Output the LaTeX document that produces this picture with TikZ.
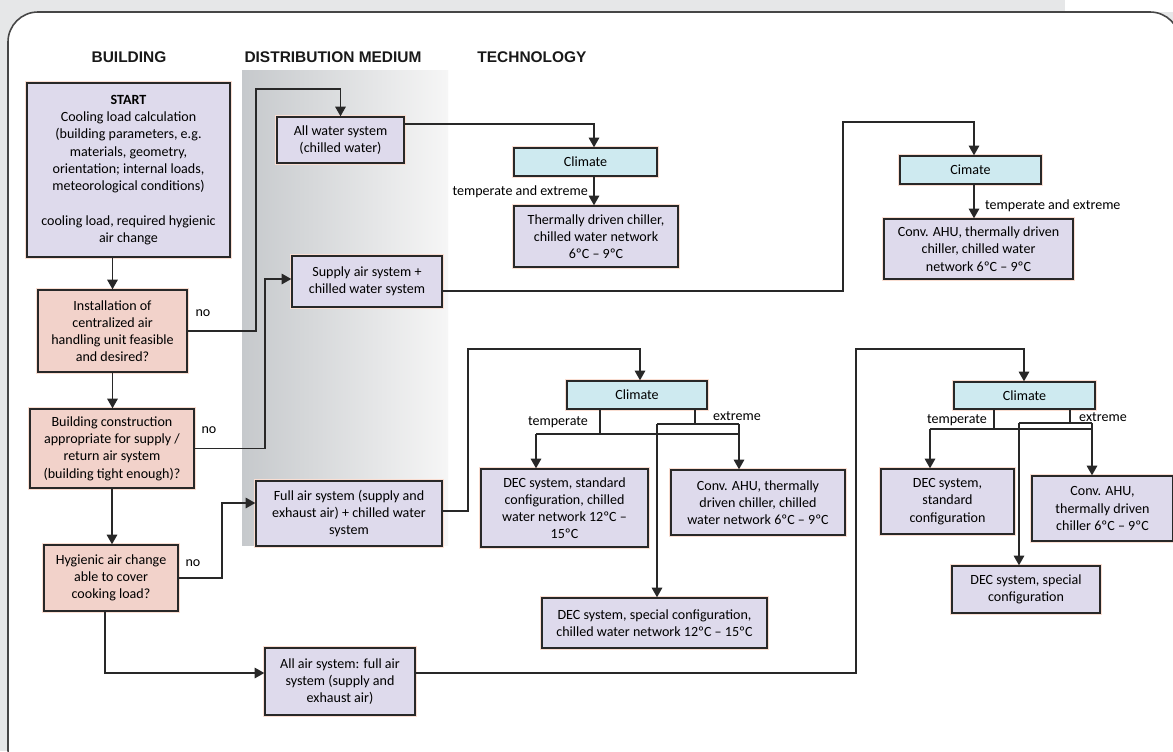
\documentclass[tikz,border=0pt]{standalone}
\usepackage{fontspec}
\setmainfont{Carlito}
\newfontfamily\headfont{Liberation Sans}
\usepackage{tikz}
\usetikzlibrary{arrows.meta, positioning, calc}

\definecolor{panelgrey}{RGB}{230,231,232}
\definecolor{frameink}{RGB}{70,70,70}
\definecolor{lineink}{RGB}{40,40,40}
\definecolor{boxviolet}{RGB}{222,218,236}
\definecolor{boxrose}{RGB}{242,210,202}
\definecolor{boxcyan}{RGB}{206,234,240}
\definecolor{glow}{RGB}{250,222,210}
\definecolor{colleft}{RGB}{198,201,204}
\definecolor{colright}{RGB}{246,246,246}

\begin{document}
\begin{tikzpicture}[x=0.02cm,y=-0.02cm,>={Triangle[length=5.5pt,width=6pt]},
    wh/.style 2 args={minimum width=#1*0.02cm, minimum height=#2*0.02cm},
    box/.style={draw=lineink, line width=0.8pt, fill=boxviolet, align=center, inner sep=1pt,
        font=\fontsize{8}{9.8}\selectfont, preaction={draw=glow, line width=2.4pt}},
    ask/.style={box, fill=boxrose},
    clim/.style={box, fill=boxcyan},
    head/.style={font=\headfont\fontsize{8.8}{10}\selectfont\bfseries, text=black!90},
    lab/.style={font=\fontsize{8}{9.8}\selectfont, inner sep=1pt},
    link/.style={draw=lineink, line width=0.8pt},
    flow/.style={link, ->}]

    % Frame
    \useasboundingbox (0,0) rectangle (1173,751);
    \clip (0,0) rectangle (1173,751);
    \fill[panelgrey] (0,0) rectangle (1173,751);
    \fill[white] (1065,0) rectangle (1173,12);
    \draw[frameink, line width=0.9pt, fill=white, rounded corners=0.6cm] (8,12) rectangle (1180,780);

    % Distribution medium column
    \shade[left color=colleft, right color=colright] (242,70) rectangle (448,545);

    % Headings
    \node[head] (hbuild) at (129,57) {BUILDING};
    \node[head] (hdist) at (333,57) {DISTRIBUTION MEDIUM};
    \node[head] (htech) at (532,57) {TECHNOLOGY};

    % Building
    \node[box, wh={203}{174}] (start) at (128.5,170) {\textbf{START}\\Cooling load calculation\\(building parameters, e.g.\\materials, geometry,\\orientation; internal loads,\\meteorological conditions)\\[9.8pt]cooling load, required hygienic\\air change};
    \node[ask, wh={149}{82}] (qahu) at (112.5,331) {Installation of\\centralized air\\handling unit feasible\\and desired?};
    \node[ask, wh={164}{79}] (qtight) at (112,448.5) {Building construction\\appropriate for supply /\\return air system\\(building tight enough)?};
    \node[ask, wh={134}{66}] (qcook) at (111,578) {Hygienic air change\\able to cover\\cooking load?};

    % Distribution medium
    \node[box, wh={127}{46}] (allwater) at (340.5,140) {All water system\\(chilled water)};
    \node[box, wh={150}{51}] (supply) at (367,281.5) {Supply air system +\\chilled water system};
    \node[box, wh={186}{65}] (fullair) at (349,513.5) {Full air system (supply and\\exhaust air) + chilled water\\system};
    \node[box, wh={150}{67}] (allair) at (340,681.5) {All air system: full air\\system (supply and\\exhaust air)};

    % Technology
    \node[clim, wh={143}{28}] (clim1) at (585.5,162) {Climate};
    \node[box, wh={164}{61}] (chiller1) at (596,236.5) {Thermally driven chiller,\\chilled water network\\6ºC – 9ºC};
    \node[clim, wh={141}{28}] (clim2) at (970.5,170) {Cimate};
    \node[box, wh={189}{60}] (ahu2) at (978.5,249) {Conv. AHU, thermally driven\\chiller, chilled water\\network 6ºC – 9ºC};
    \node[clim, wh={140}{28}] (clim3) at (637,395) {Climate};
    \node[box, wh={167}{78}] (decstd3) at (564.5,508) {DEC system, standard\\configuration, chilled\\water network 12ºC –\\15ºC};
    \node[box, wh={174}{65}] (ahu3) at (758,502.5) {Conv. AHU, thermally\\driven chiller, chilled\\water network 6ºC – 9ºC};
    \node[box, wh={225}{50}] (decspec3) at (654.5,623) {DEC system, special configuration,\\chilled water network 12ºC – 15ºC};
    \node[clim, wh={141}{27}] (clim4) at (1024.5,395.5) {Climate};
    \node[box, wh={133}{65}] (decstd4) at (947.5,501.5) {DEC system,\\standard\\configuration};
    \node[box, wh={141}{65}] (ahu4) at (1102.5,508.5) {Conv. AHU,\\thermally driven\\chiller 6ºC – 9ºC};
    \node[box, wh={148}{47}] (decspec4) at (1026,589.5) {DEC system, special\\configuration};

    % Bends
    \coordinate (bA) at (256,89);
    \coordinate (bB) at (265,279);
    \coordinate (bC) at (222,503);
    \coordinate (bD) at (105,673);
    \coordinate (bE) at (594,124);
    \coordinate (bF) at (843,291);
    \coordinate (bG) at (974,122);
    \coordinate (bH) at (468,511);
    \coordinate (bI) at (640,349);
    \coordinate (bJ) at (856,673);
    \coordinate (bK) at (1024,349);
    \coordinate (t3) at (600,434); \coordinate (l3) at (536,434);
    \coordinate (e3) at (695,424); \coordinate (s3) at (657,424); \coordinate (r3) at (739,424);
    \coordinate (t4) at (994,429); \coordinate (l4) at (930,429);
    \coordinate (e4) at (1070,423); \coordinate (s4) at (1019,423); \coordinate (r4) at (1092,423);

    % Building column
    \draw[flow] (qahu.north |- start.south) -- (qahu.north);
    \draw[flow] (qahu.south) -- (qahu.south |- qtight.north);
    \draw[flow] (qtight.south) -- (qtight.south |- qcook.north);

    % "no" branches
    \draw[flow] (qahu.east) -| (bA) -| (allwater.north);
    \draw[flow] (qtight.east) -| (bB) -- (bB -| supply.west);
    \draw[flow] (qcook.east) -| (bC) -- (bC -| fullair.west);
    \draw[flow] (qcook.south -| bD) -- (bD) -- (bD -| allair.west);

    % To the climate boxes
    \draw[flow] (bE -| allwater.east) -- (bE) -- (bE |- clim1.north);
    \draw[flow] (bE |- clim1.south) -- (bE |- chiller1.north);
    \draw[flow] (bF -| supply.east) -- (bF) |- (bG) -- (bG |- clim2.north);
    \draw[flow] (bG |- clim2.south) -- (bG |- ahu2.north);
    \draw[flow] (bH -| fullair.east) -- (bH) |- (bI) -- (bI |- clim3.north);
    \draw[flow] (bJ -| allair.east) -- (bJ) |- (bK) -- (bK |- clim4.north);

    % Climate splits
    \draw[link] (t3 |- clim3.south) -- (t3);
    \draw[link] (l3) -- (l3 -| r3);
    \draw[flow] (l3) -- (l3 |- decstd3.north);
    \draw[link] (e3 |- clim3.south) -- (e3);
    \draw[link] (s3) -- (r3);
    \draw[flow] (r3) -- (r3 |- ahu3.north);
    \draw[flow] (s3) -- (s3 |- decspec3.north);

    \draw[link] (t4 |- clim4.south) -- (t4);
    \draw[link] (l4) -- (l4 -| r4);
    \draw[flow] (l4) -- (l4 |- decstd4.north);
    \draw[link] (e4 |- clim4.south) -- (e4);
    \draw[link] (s4) -- (r4);
    \draw[flow] (r4) -- (r4 |- ahu4.north);
    \draw[flow] (s4) -- (s4 |- decspec4.north);

    % Labels
    \node[lab] (noA) at (203,313) {no};
    \node[lab] (noB) at (209,430) {no};
    \node[lab] (noC) at (193,563) {no};
    \node[lab, anchor=east] (tx1) at (590,192) {temperate and extreme};
    \node[lab, anchor=west] (tx2) at (983,206) {temperate and extreme};
    \node[lab] (te3) at (558,422) {temperate};
    \node[lab] (ex3) at (737,416) {extreme};
    \node[lab] (te4) at (957,420) {temperate};
    \node[lab] (ex4) at (1103,417) {extreme};
\end{tikzpicture}
\end{document}
